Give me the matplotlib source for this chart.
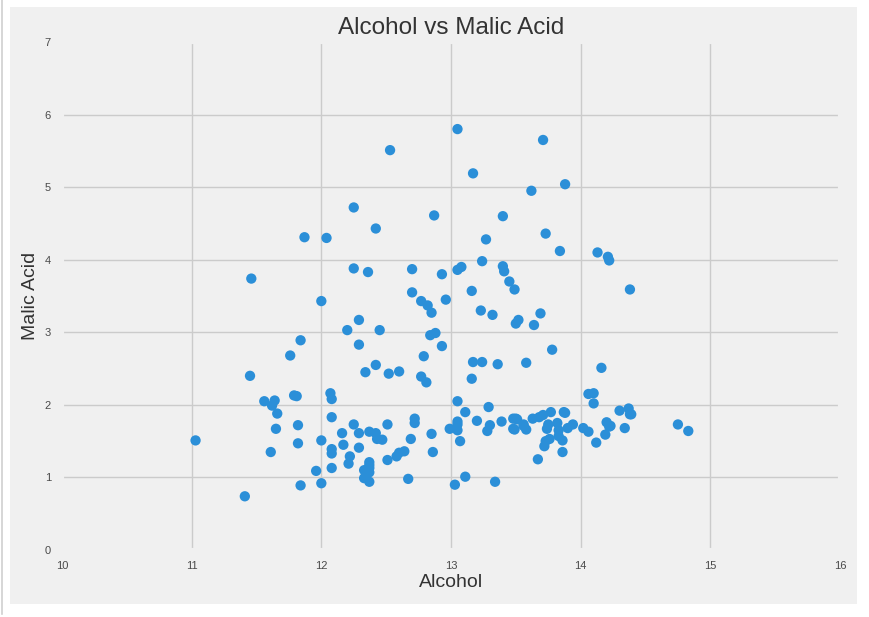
import matplotlib
matplotlib.use("Agg")
import matplotlib.pyplot as plt
from matplotlib.patches import Rectangle
from matplotlib.lines import Line2D

# wine data: alcohol / malic acid
alcohol = [14.23, 13.2, 13.16, 14.37, 13.24, 14.2, 14.39, 14.06, 14.83, 13.86,
           14.1, 14.12, 13.75, 14.75, 14.38, 13.63, 14.3, 13.83, 14.19, 13.64,
           14.06, 12.93, 13.71, 12.85, 13.5, 13.05, 13.39, 13.3, 13.87, 14.02,
           13.73, 13.58, 13.68, 13.76, 13.51, 13.48, 13.28, 13.05, 13.07, 14.22,
           13.56, 13.41, 13.88, 13.24, 13.05, 14.21, 14.38, 13.9, 14.1, 13.94,
           13.05, 13.83, 13.82, 13.77, 13.74, 13.56, 14.22, 13.29, 13.72,
           12.37, 12.33, 12.64, 13.67, 12.37, 12.17, 12.37, 13.11, 12.37, 13.34,
           12.21, 12.29, 13.86, 13.49, 12.99, 11.96, 11.66, 13.03, 11.84, 12.33,
           12.7, 12.0, 12.72, 12.08, 13.05, 11.84, 12.67, 12.16, 11.65, 11.64,
           12.08, 12.08, 12.0, 12.69, 12.29, 11.62, 12.47, 11.81, 12.29, 12.37,
           12.29, 12.08, 12.6, 12.34, 11.82, 12.51, 12.42, 12.25, 12.72, 12.22,
           11.61, 11.46, 12.52, 11.76, 11.41, 12.08, 11.03, 11.82, 12.42, 12.77,
           12.0, 11.45, 11.56, 12.42, 13.05, 11.87, 12.07, 12.43, 11.79, 12.37,
           12.04,
           12.86, 12.88, 12.81, 12.7, 12.51, 12.6, 12.25, 12.53, 13.49, 12.84,
           12.93, 13.36, 13.52, 13.62, 12.25, 13.16, 13.88, 12.87, 13.32, 13.08,
           13.5, 12.79, 13.11, 13.23, 12.58, 13.17, 13.84, 12.45, 14.34, 13.48,
           12.36, 13.69, 12.85, 12.96, 13.78, 13.73, 13.45, 12.82, 13.58, 13.4,
           12.2, 12.77, 14.16, 13.71, 13.4, 13.27, 13.17, 14.13]
malic_acid = [1.71, 1.78, 2.36, 1.95, 2.59, 1.76, 1.87, 2.15, 1.64, 1.35,
              2.16, 1.48, 1.73, 1.73, 1.87, 1.81, 1.92, 1.57, 1.59, 3.1,
              1.63, 3.8, 1.86, 1.6, 1.81, 2.05, 1.77, 1.72, 1.9, 1.68,
              1.5, 1.66, 1.83, 1.53, 1.8, 1.81, 1.64, 1.65, 1.5, 3.99,
              1.71, 3.84, 1.89, 3.98, 1.77, 4.04, 3.59, 1.68, 2.02, 1.73,
              1.73, 1.65, 1.75, 1.9, 1.67, 1.73, 1.7, 1.97, 1.43,
              0.94, 1.1, 1.36, 1.25, 1.13, 1.45, 1.21, 1.01, 1.17, 0.94,
              1.19, 1.61, 1.51, 1.66, 1.67, 1.09, 1.88, 0.9, 2.89, 0.99,
              3.87, 0.92, 1.81, 1.13, 3.86, 0.89, 0.98, 1.61, 1.67, 2.06,
              1.33, 1.83, 1.51, 1.53, 2.83, 1.99, 1.52, 2.12, 1.41, 1.07,
              3.17, 2.08, 1.34, 2.45, 1.72, 1.73, 2.55, 1.73, 1.75, 1.29,
              1.35, 3.74, 2.43, 2.68, 0.74, 1.39, 1.51, 1.47, 1.61, 3.43,
              3.43, 2.4, 2.05, 4.43, 5.8, 4.31, 2.16, 1.53, 2.13, 1.63,
              4.3,
              1.35, 2.99, 2.31, 3.55, 1.24, 2.46, 4.72, 5.51, 3.59, 2.96,
              2.81, 2.56, 3.17, 4.95, 3.88, 3.57, 5.04, 4.61, 3.24, 3.9,
              3.12, 2.67, 1.9, 3.3, 1.29, 5.19, 4.12, 3.03, 1.68, 1.67,
              3.83, 3.26, 3.27, 3.45, 2.76, 4.36, 3.7, 3.37, 2.58, 4.6,
              3.03, 2.39, 2.51, 5.65, 3.91, 4.28, 2.59, 4.1]

x_ticks = [10, 11, 12, 13, 14, 15, 16]
y_ticks = [0, 1, 2, 3, 4, 5, 6, 7]

bg = '#f0f0f0'
plt.rcParams['font.family'] = ['Liberation Sans', 'DejaVu Sans']

fig = plt.figure(figsize=(8.7, 6.17), dpi=100, facecolor='white')
# notebook output panel behind everything
panel = Rectangle((10/870, 1 - 604/617), 847/870, 597/617,
                  transform=fig.transFigure, facecolor=bg,
                  edgecolor='none', zorder=-10)
fig.add_artist(panel)
border = Line2D([2.5/870, 2.5/870], [1 - 614/617, 1.0],
                transform=fig.transFigure, color='#d0d0d0', lw=1.2, zorder=-10)
fig.add_artist(border)

ax = fig.add_axes([62/870, 1 - 550/617, 778/870, 508/617])
ax.set_facecolor(bg)
ax.scatter(alcohol, malic_acid, s=55, color='#2b8fd8', edgecolors='none', zorder=3)

ax.set_xlim(10, 16)
ax.set_ylim(0, 7)
ax.set_xticks(x_ticks)
ax.set_yticks(y_ticks)
ax.grid(True, color='#cbcbcb', lw=1.0, zorder=0)
ax.set_axisbelow(True)
for sp in ax.spines.values():
    sp.set_color(bg)
    sp.set_linewidth(3)
ax.tick_params(length=0, labelsize=8, labelcolor='#4a4a4a', pad=8)

ax.set_title('Alcohol vs Malic Acid', fontsize=17.5, color='#333333', pad=6)
ax.set_xlabel('Alcohol', fontsize=14, color='#333333', labelpad=2)
ax.set_ylabel('Malic Acid', fontsize=14, color='#333333', labelpad=4)

fig.savefig('out.png', dpi=100, facecolor='white')
